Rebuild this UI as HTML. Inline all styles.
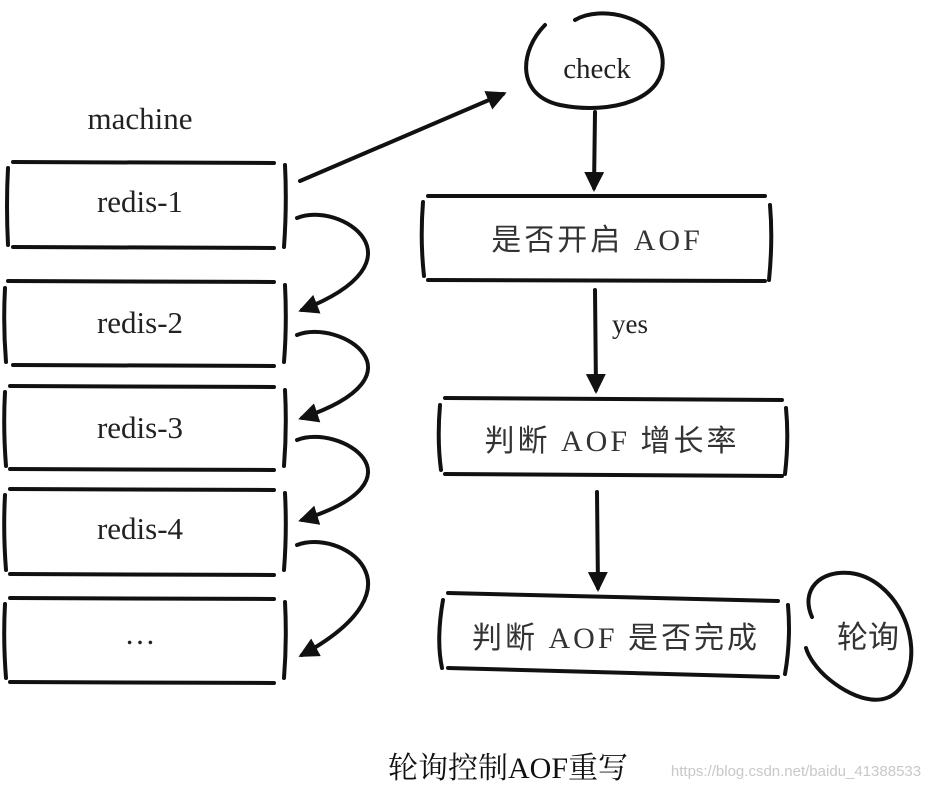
<!DOCTYPE html>
<html><head><meta charset="utf-8"><style>
html,body{margin:0;padding:0;background:#fff;width:938px;height:787px;overflow:hidden}
svg{display:block}
.t{font-family:"Liberation Serif","Noto Serif CJK SC",serif;fill:#222}
.c{font-family:"Liberation Serif","WenQuanYi Zen Hei","Noto Sans CJK SC",sans-serif;fill:#333}
</style></head><body>
<svg width="938" height="787" viewBox="0 0 938 787" fill="none" stroke="#111" stroke-width="4" stroke-linecap="round">
<defs><marker id="a" viewBox="0 0 10 10" refX="8" refY="5" markerWidth="5" markerHeight="5" orient="auto"><path d="M0,0 L10,5 L0,10 Z" fill="#111" stroke="none"/></marker></defs>
<text class="t" x="140" y="129" font-size="31" text-anchor="middle" stroke="none">machine</text>
<g>
<path d="M13 162 L274 163 M13 247 L274 248 M8 168 Q6 205 8 245 M285 165 Q287 205 284 247"/>
<path d="M8 281 L274 282 M13 365 L274 366 M5 288 Q3 325 6 362 M285 285 Q287 325 284 362"/>
<path d="M10 386 L274 387 M10 469 L274 470 M5 392 Q3 428 6 466 M285 390 Q287 428 284 466"/>
<path d="M10 489 L274 490 M10 574 L274 575 M5 495 Q3 532 6 570 M285 493 Q287 532 284 570"/>
<path d="M10 598 L274 599 M10 682 L274 683 M5 604 Q3 640 6 678 M285 602 Q287 640 284 678"/>
</g>
<g class="t" stroke="none" font-size="31" text-anchor="middle">
<text x="140" y="212">redis-1</text>
<text x="140" y="333">redis-2</text>
<text x="140" y="438">redis-3</text>
<text x="140" y="539">redis-4</text>
<text x="140" y="644">…</text>
</g>
<path d="M297 218 C340 200 430 260 302 310" marker-end="url(#a)"/>
<path d="M297 335 C340 318 430 375 302 418" marker-end="url(#a)"/>
<path d="M297 440 C340 423 430 480 302 520" marker-end="url(#a)"/>
<path d="M297 545 C340 528 430 585 302 655" marker-end="url(#a)"/>
<path d="M300 181 L503 94" marker-end="url(#a)"/>
<path d="M545 25 C520 50 515 95 560 105 C610 115 670 100 662 55 C655 15 600 5 575 20" />
<text class="t" x="597" y="78" font-size="29" text-anchor="middle" stroke="none">check</text>
<path d="M595 112 L594 188" marker-end="url(#a)"/>
<path d="M428 196 L765 196 M428 280 L765 281 M423 202 Q420 240 424 276 M770 205 Q773 240 769 280"/>
<text class="c" x="597" y="250" font-size="30" text-anchor="middle" stroke="none" letter-spacing="3">是否开启 AOF</text>
<path d="M595 290 L596 390" marker-end="url(#a)"/>
<text class="t" x="612" y="333" font-size="27" stroke="none">yes</text>
<path d="M445 398 L782 400 M445 474 L782 476 M440 405 Q437 440 441 470 M786 408 Q789 440 785 474"/>
<text class="c" x="612" y="451" font-size="30" text-anchor="middle" stroke="none" letter-spacing="3">判断 AOF 增长率</text>
<path d="M597 492 L598 588" marker-end="url(#a)"/>
<path d="M448 593 L778 601 M448 668 L778 677 M443 600 Q436 640 442 668 M788 605 Q791 640 785 674"/>
<text class="c" x="616" y="648" font-size="30" text-anchor="middle" stroke="none" letter-spacing="3">判断 AOF 是否完成</text>
<path d="M812 617 C800 590 820 570 850 573 C895 578 925 640 905 680 C890 712 855 700 830 680 C815 668 808 655 806 648"/>
<text class="c" x="868" y="648" font-size="31" text-anchor="middle" stroke="none">轮询</text>
<text x="508" y="778" font-size="30" text-anchor="middle" stroke="none" fill="#111" style='font-family:"Liberation Serif","Noto Serif CJK SC",serif'>轮询控制AOF重写</text>
<text x="796" y="776" font-size="15" text-anchor="middle" stroke="none" fill="#c8c8c8" style='font-family:"Liberation Sans",sans-serif'>https://blog.csdn.net/baidu_41388533</text>
</svg>
</body></html>
